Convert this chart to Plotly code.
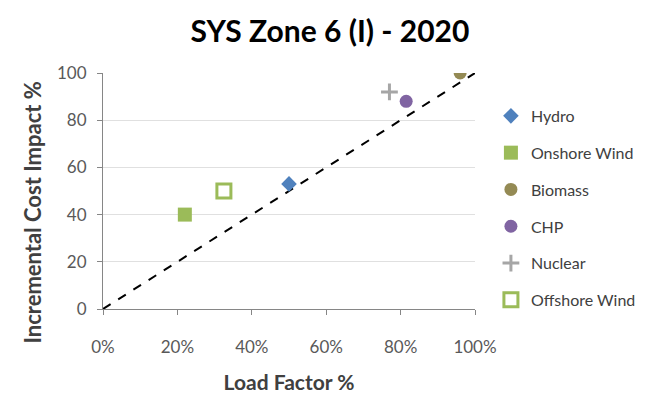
import plotly.graph_objects as go

# data
tech = ["Hydro", "Onshore Wind", "Biomass", "CHP", "Nuclear", "Offshore Wind"]
load_factor = [0.50, 0.22, 0.96, 0.815, 0.77, 0.325]
cost_impact = [53, 40, 100, 88, 92, 50]
colours = ["#4F81BD", "#9BBB59", "#948A54", "#8064A2", "#A6A6A6", "#9BBB59"]
symbols = ["diamond", "square", "circle", "circle", "cross-thin", "square-open"]
sizes = [12, 14, 13, 13, 12, 14]

ref_x = [0, 1]
ref_y = [0, 100]

font = "Lato, Open Sans, sans-serif"

fig = go.Figure()

# dashed 1:1 line
fig.add_trace(go.Scatter(
    x=ref_x, y=ref_y, mode="lines",
    line=dict(color="black", width=2, dash="dash"),
    showlegend=False, hoverinfo="skip",
))

for i, name in enumerate(tech):
    line_w = 3 if symbols[i] in ("square-open", "cross-thin") else 0
    fig.add_trace(go.Scatter(
        x=[load_factor[i]], y=[cost_impact[i]], mode="markers", name=name,
        legendgroup=name,
        marker=dict(color=colours[i], symbol=symbols[i], size=sizes[i],
                    line=dict(color=colours[i], width=line_w)),
    ))

# the page body has an 8px margin, so the figure is a bit smaller than the window
fig.update_layout(
    width=644, height=386,
    margin=dict(l=95, r=176, t=65, b=85),
    paper_bgcolor="white", plot_bgcolor="white",
    font=dict(family=font, size=17, color="#595959"),
    title=dict(text="<b>SYS Zone 6 (I) - 2020</b>", x=0.5, xanchor="center",
               y=0.938, yanchor="middle",
               font=dict(family=font, size=30, color="black")),
    legend=dict(x=1.04, y=0.89, xanchor="left", yanchor="top",
                font=dict(family=font, size=16, color="#404040"),
                tracegroupgap=13, itemwidth=30),
    showlegend=True,
)

# y title sits a little below the plot centre in the original
fig.add_annotation(
    text="<b>Incremental Cost Impact %</b>", textangle=-90,
    xref="paper", yref="paper", x=-0.19, y=0.41,
    xanchor="center", yanchor="middle", showarrow=False,
    font=dict(family=font, size=22, color="#404040"),
)

fig.update_xaxes(
    range=[0, 1], tickvals=[0, 0.2, 0.4, 0.6, 0.8, 1.0],
    tickformat=".0%", showgrid=False, zeroline=False, automargin=False,
    showline=True, linecolor="#868686", linewidth=1,
    ticks="outside", ticklen=5, tickcolor="#868686", ticklabelstandoff=18,
    title=dict(text="<b>Load Factor %</b>", standoff=21,
               font=dict(family=font, size=21, color="#404040")),
)
fig.update_yaxes(
    range=[0, 100], tickvals=[0, 20, 40, 60, 80, 100],
    showgrid=True, gridcolor="#E0E0E0", zeroline=False, automargin=False,
    showline=True, linecolor="#868686", linewidth=1,
    ticks="outside", ticklen=5, tickcolor="#868686", ticklabelstandoff=7,
)

fig.write_html("out.html")
